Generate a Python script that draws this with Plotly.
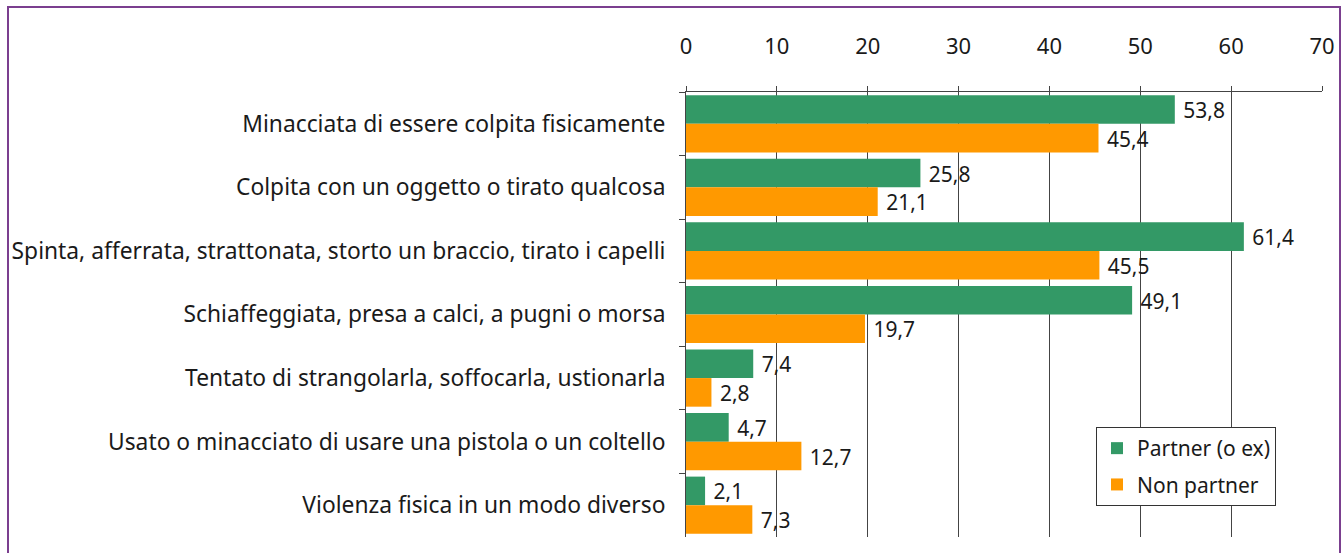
import plotly.graph_objects as go

categories = [
    "Minacciata di essere colpita fisicamente",
    "Colpita con un oggetto o tirato qualcosa",
    "Spinta, afferrata, strattonata, storto un braccio, tirato i capelli",
    "Schiaffeggiata, presa a calci, a pugni o morsa",
    "Tentato di strangolarla, soffocarla, ustionarla",
    "Usato o minacciato di usare una pistola o un coltello",
    "Violenza fisica in un modo diverso",
]
partner = [53.8, 25.8, 61.4, 49.1, 7.4, 4.7, 2.1]
non_partner = [45.4, 21.1, 45.5, 19.7, 2.8, 12.7, 7.3]
x_ticks = [0, 10, 20, 30, 40, 50, 60, 70]

W, H = 1342, 553
ML, MR, MT, MB = 686, 20, 92, 16
FONT = "Noto Sans"
FS = 22
TXT = "#1a1a1a"

fig = go.Figure()
fig.add_trace(go.Bar(
    y=categories, x=partner, orientation="h", name="Partner (o ex)",
    marker=dict(color="#339966", line=dict(width=0)),
    texttemplate=" %{x:.1f}", textposition="outside",
    textfont=dict(family=FONT, size=FS, color=TXT),
    cliponaxis=False, legendgroup="a",
))
fig.add_trace(go.Bar(
    y=categories, x=non_partner, orientation="h", name="Non partner",
    marker=dict(color="#FF9900", line=dict(width=0)),
    texttemplate=" %{x:.1f}", textposition="outside",
    textfont=dict(family=FONT, size=FS, color=TXT),
    cliponaxis=False, legendgroup="b",
))

pw = W - ML - MR
ph = H - MT - MB

# purple frame around the whole figure, expressed in paper coordinates
def px_to_paper_x(px):
    return (px - ML) / pw

def px_to_paper_y(py):
    return (H - MB - py) / ph

fig.add_shape(
    type="rect", xref="paper", yref="paper",
    x0=px_to_paper_x(8), x1=px_to_paper_x(1340),
    y0=px_to_paper_y(560), y1=px_to_paper_y(7),
    line=dict(color="#7B3F8F", width=2), fillcolor="rgba(0,0,0,0)", layer="above",
)

fig.update_layout(
    width=W, height=H,
    margin=dict(l=ML, r=MR, t=MT, b=MB, autoexpand=False),
    paper_bgcolor="white", plot_bgcolor="white",
    barmode="group", bargap=0.1, bargroupgap=0.0,
    separators=",.",
    font=dict(family=FONT, size=FS, color=TXT),
    showlegend=True,
    legend=dict(
        x=px_to_paper_x(1096), y=px_to_paper_y(427),
        xanchor="left", yanchor="top",
        bgcolor="white", bordercolor="#333333", borderwidth=1,
        font=dict(family=FONT, size=FS - 1, color=TXT),
        traceorder="grouped", tracegroupgap=6,
        itemwidth=30,
    ),
    xaxis=dict(
        side="top", range=[0, 70], tickvals=x_ticks,
        showgrid=True, gridcolor="#444444", gridwidth=1,
        showline=True, linecolor="#444444", linewidth=1,
        ticks="outside", ticklen=5, tickcolor="#444444",
        ticklabelstandoff=23, zeroline=False,
        tickfont=dict(family=FONT, size=FS, color=TXT),
    ),
    yaxis=dict(
        autorange="reversed", tickson="boundaries",
        showline=True, linecolor="#444444", linewidth=1,
        ticks="outside", ticklen=6, tickcolor="#444444",
        ticklabelstandoff=15, showgrid=False,
        tickfont=dict(family=FONT, size=22.8, color=TXT),
    ),
)

fig.write_html("out.html")
